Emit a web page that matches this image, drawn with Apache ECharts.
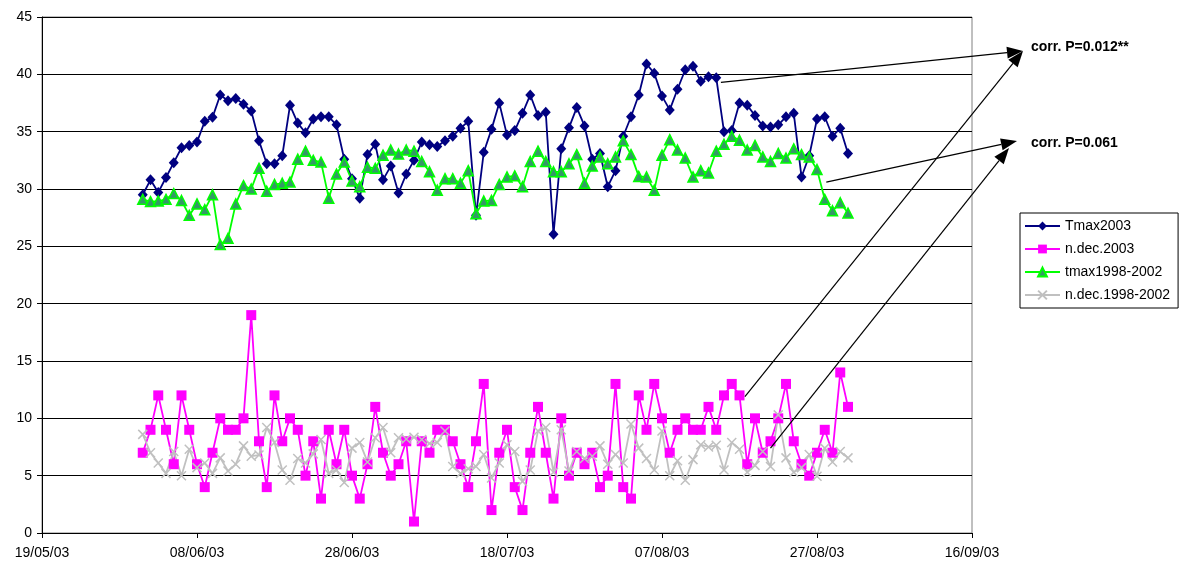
<!DOCTYPE html>
<html>
<head>
<meta charset="utf-8">
<script src="https://cdn.jsdelivr.net/npm/echarts@6/dist/echarts.min.js"></script>
<style>
  html, body { margin: 0; padding: 0; background: #fff; }
  #chart { width: 1188px; height: 564px; }
</style>
</head>
<body>
<div id="chart"></div>
<script>
// days counted from 19/05/03; the daily series run 01/06/03 .. 31/08/03
const firstDay = 13;
const seriesNames = ['Tmax2003', 'n.dec.2003', 'tmax1998-2002', 'n.dec.1998-2002'];

const tmax2003 = [
  29.5, 30.8, 29.7, 31.0, 32.3, 33.6, 33.8, 34.1, 35.9, 36.25,
  38.2, 37.7, 37.9, 37.4, 36.8, 34.2, 32.2, 32.2, 32.9, 37.3,
  35.75, 34.9, 36.1, 36.3, 36.3, 35.6, 32.6, 30.9, 29.2, 33.0,
  33.9, 30.8, 32.0, 29.65, 31.3, 32.5, 34.1, 33.85, 33.7, 34.2,
  34.6, 35.3, 35.9, 27.7, 33.2, 35.2, 37.5, 34.7, 35.1, 36.6,
  38.2, 36.4, 36.7, 26.05, 33.5, 35.35, 37.1, 35.5, 32.6, 33.1,
  30.2, 31.6, 34.6, 36.3, 38.2, 40.9, 40.1, 38.1, 36.9, 38.7,
  40.4, 40.7, 39.4, 39.8, 39.7, 35.0, 35.1, 37.5, 37.3, 36.4,
  35.5, 35.4, 35.6, 36.3, 36.6, 31.05, 32.9, 36.1, 36.3, 34.6,
  35.3, 33.1
];

const nDec2003 = [
  7, 9, 12, 9, 6, 12, 9, 6, 4, 7,
  10, 9, 9, 10, 19, 8, 4, 12, 8, 10,
  9, 5, 8, 3, 9, 6, 9, 5, 3, 6,
  11, 7, 5, 6, 8, 1, 8, 7, 9, 9,
  8, 6, 4, 8, 13, 2, 7, 9, 4, 2,
  7, 11, 7, 3, 10, 5, 7, 6, 7, 4,
  5, 13, 4, 3, 12, 9, 13, 10, 7, 9,
  10, 9, 9, 11, 9, 12, 13, 12, 6, 10,
  7, 8, 10, 13, 8, 6, 5, 7, 9, 7, 14, 11
];

const tmax9802 = [
  29.1, 28.9, 28.95, 29.1, 29.6, 29.0, 27.7, 28.7, 28.2, 29.5,
  25.15, 25.7, 28.7, 30.3, 30.0, 31.8, 29.8, 30.4, 30.5, 30.6,
  32.6, 33.3, 32.5, 32.35, 29.2, 31.3, 32.35, 30.7, 30.2, 31.9,
  31.8, 32.95, 33.4, 33.05, 33.4, 33.3, 32.4, 31.5, 29.9, 30.9,
  30.9, 30.5, 31.6, 27.85, 28.95, 29.0, 30.4, 31.05, 31.15, 30.2,
  32.4, 33.3, 32.4, 31.5, 31.5, 32.2, 33.0, 30.5, 32.0, 32.8,
  32.2, 32.8, 34.2, 33.0, 31.1, 31.05, 29.9, 32.95, 34.3, 33.4,
  32.7, 31.05, 31.6, 31.4, 33.3, 33.9, 34.6, 34.25, 33.4, 33.8,
  32.8, 32.4, 33.1, 32.7, 33.5, 33.0, 32.8, 31.7, 29.1, 28.1, 28.8, 27.9
];

const nDec9802 = [
  8.6, 7.0, 6.1, 5.2, 7.1, 5.0, 7.3, 5.7, 6.1, 5.2,
  6.55, 5.4, 6.0, 7.6, 6.7, 6.8, 9.2, 7.9, 5.5, 4.6,
  6.5, 6.1, 6.9, 8.15, 5.2, 5.5, 4.4, 7.4, 7.9, 6.2,
  8.3, 9.2, 7.0, 8.3, 8.2, 8.35, 8.15, 7.8, 7.9, 8.9,
  5.8, 5.2, 5.6, 5.8, 6.85, 4.8, 6.1, 7.7, 7.1, 4.5,
  5.5, 8.9, 9.2, 5.3, 9.0, 5.4, 7.1, 6.5, 6.7, 7.6,
  6.0, 6.85, 6.1, 9.5, 7.4, 6.5, 5.5, 8.9, 5.0, 6.3,
  4.6, 6.4, 7.7, 7.5, 7.65, 5.5, 7.9, 7.3, 5.3, 5.9,
  7.1, 5.8, 10.3, 6.55, 5.3, 5.7, 6.85, 4.95, 7.4, 6.2, 7.1, 6.55
];

// annotation arrows: start in data coords [day, value], end in pixels
const corrLabels = ['corr. P=0.012**', 'corr. P=0.061'];
const arrowStarts = [[87.6, 39.3], [101.2, 30.6], [90.7, 11.9], [94.0, 7.4]];
const arrowEnds = [[1023, 51], [1017, 141], [1023, 51], [1009, 148]];

const FONT = '"Liberation Sans", Arial, sans-serif';
const baseDate = Date.UTC(2003, 4, 19);

function pad(n) {
  return n < 10 ? '0' + n : '' + n;
}

function dayLabel(v) {
  const d = new Date(baseDate + v * 86400000);
  return pad(d.getUTCDate()) + '/' + pad(d.getUTCMonth() + 1) + '/' + pad(d.getUTCFullYear() % 100);
}

function toPoints(values) {
  return values.map((v, i) => [firstDay + i, v]);
}

const chart = echarts.init(document.getElementById('chart'));

const option = {
  animation: false,
  backgroundColor: '#fff',
  textStyle: { fontFamily: FONT },
  grid: {
    left: 42,
    right: 216,
    top: 17,
    bottom: 31,
    show: true,
    borderColor: '#808080',
    borderWidth: 1,
  },
  legend: {
    orient: 'vertical',
    left: 1020,
    top: 213,
    data: seriesNames,
    itemWidth: 35,
    itemHeight: 11,
    itemGap: 9,
    padding: [6, 8, 6, 4],
    borderColor: '#000',
    borderWidth: 1,
    textStyle: { fontFamily: FONT, fontSize: 14, color: '#000' },
  },
  xAxis: {
    type: 'value',
    min: 0,
    max: 120,
    interval: 20,
    splitLine: { show: false },
    axisLine: { lineStyle: { color: '#000', width: 1 } },
    axisTick: { show: true, length: 5, lineStyle: { color: '#000' } },
    axisLabel: {
      color: '#000',
      fontSize: 14,
      fontFamily: FONT,
      margin: 13,
      formatter: dayLabel,
    },
  },
  yAxis: {
    type: 'value',
    min: 0,
    max: 45,
    interval: 5,
    axisLine: { show: true, lineStyle: { color: '#000', width: 1 } },
    axisTick: { show: true, length: 5, lineStyle: { color: '#000' } },
    splitLine: { show: true, lineStyle: { color: '#000', width: 1 } },
    axisLabel: { color: '#000', fontSize: 14, fontFamily: FONT, margin: 10 },
  },
  series: [
    {
      name: seriesNames[0],
      type: 'line',
      data: toPoints(tmax2003),
      symbol: 'diamond',
      symbolSize: [10, 11],
      lineStyle: { color: '#000080', width: 1.8 },
      itemStyle: { color: '#000080' },
    },
    {
      name: seriesNames[1],
      type: 'line',
      data: toPoints(nDec2003),
      symbol: 'rect',
      symbolSize: 10,
      lineStyle: { color: '#ff00ff', width: 1.8 },
      itemStyle: { color: '#ff00ff' },
    },
    {
      name: seriesNames[2],
      type: 'line',
      data: toPoints(tmax9802),
      symbol: 'triangle',
      symbolSize: 10,
      lineStyle: { color: '#00ff00', width: 1.8 },
      itemStyle: { color: '#339966', borderColor: '#00ff00', borderWidth: 1.5 },
    },
    {
      name: seriesNames[3],
      type: 'line',
      data: toPoints(nDec9802),
      symbol: 'path://M0,0L10,10M10,0L0,10',
      symbolSize: 9,
      lineStyle: { color: '#c0c0c0', width: 1.8 },
      itemStyle: { color: '#c0c0c0', borderColor: '#c0c0c0', borderWidth: 1.5 },
    },
  ],
};

chart.setOption(option);

// arrows and correlation notes, placed once the scales exist
function arrowGraphics(p0, p1) {
  const dx = p1[0] - p0[0];
  const dy = p1[1] - p0[1];
  const len = Math.sqrt(dx * dx + dy * dy);
  const ux = dx / len, uy = dy / len;
  const headL = 16, headW = 12;
  const bx = p1[0] - ux * headL, by = p1[1] - uy * headL;
  return [
    {
      type: 'line',
      shape: { x1: p0[0], y1: p0[1], x2: bx, y2: by },
      style: { stroke: '#000', lineWidth: 1.2 },
      z: 100,
    },
    {
      type: 'polygon',
      shape: {
        points: [
          [p1[0], p1[1]],
          [bx - uy * headW / 2, by + ux * headW / 2],
          [bx + uy * headW / 2, by - ux * headW / 2],
        ],
      },
      style: { fill: '#000' },
      z: 100,
    },
  ];
}

let elements = [];
arrowStarts.forEach((s, i) => {
  const p0 = chart.convertToPixel({ gridIndex: 0 }, s);
  elements = elements.concat(arrowGraphics(p0, arrowEnds[i]));
});

elements.push({
  type: 'text',
  x: 1031,
  y: 47,
  z: 100,
  style: { text: corrLabels[0], font: 'bold 14px ' + FONT, fill: '#000', verticalAlign: 'middle' },
});
elements.push({
  type: 'text',
  x: 1031,
  y: 143,
  z: 100,
  style: { text: corrLabels[1], font: 'bold 14px ' + FONT, fill: '#000', verticalAlign: 'middle' },
});

chart.setOption({ graphic: { elements } });
</script>
</body>
</html>
